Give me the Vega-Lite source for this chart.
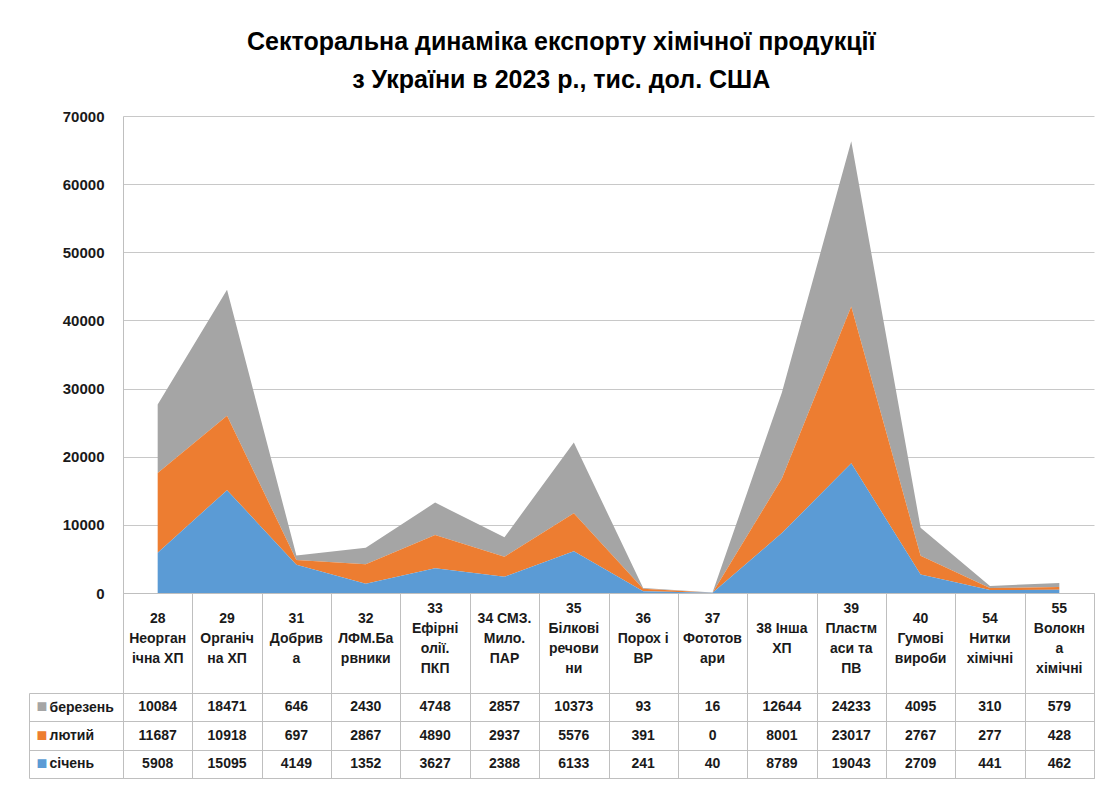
{
  "$schema": "https://vega.github.io/schema/vega-lite/v6.json",
  "background": "white",
  "padding": {"left": 28, "top": 30, "right": 5, "bottom": 5},
  "bounds": "flush",
  "title": {
    "text": ["Секторальна динаміка експорту хімічної продукції", "з України в 2023 р., тис. дол. США"],
    "font": "Liberation Sans",
    "fontSize": 25,
    "fontWeight": "bold",
    "color": "#000000",
    "lineHeight": 38,
    "anchor": "middle",
    "offset": 16
  },
  "datasets": {
    "cats": [
      {"cat": "28", "label": "28|Неорган|ічна ХП"},
      {"cat": "29", "label": "29|Органіч|на ХП"},
      {"cat": "31", "label": "31|Добрив|а"},
      {"cat": "32", "label": "32|ЛФМ.Ба|рвники"},
      {"cat": "33", "label": "33|Ефірні|олії.|ПКП"},
      {"cat": "34", "label": "34  СМЗ.|Мило.|ПАР"},
      {"cat": "35", "label": "35|Білкові|речови|ни"},
      {"cat": "36", "label": "36|Порох і|ВР"},
      {"cat": "37", "label": "37|Фототов|ари"},
      {"cat": "38", "label": "38  Інша|ХП"},
      {"cat": "39", "label": "39|Пластм|аси та|ПВ"},
      {"cat": "40", "label": "40|Гумові|вироби"},
      {"cat": "54", "label": "54|Нитки|хімічні"},
      {"cat": "55", "label": "55|Волокн|а|хімічні"}
    ],
    "values": [
      {"cat": "28", "month": "березень", "value": 10084},
      {"cat": "29", "month": "березень", "value": 18471},
      {"cat": "31", "month": "березень", "value": 646},
      {"cat": "32", "month": "березень", "value": 2430},
      {"cat": "33", "month": "березень", "value": 4748},
      {"cat": "34", "month": "березень", "value": 2857},
      {"cat": "35", "month": "березень", "value": 10373},
      {"cat": "36", "month": "березень", "value": 93},
      {"cat": "37", "month": "березень", "value": 16},
      {"cat": "38", "month": "березень", "value": 12644},
      {"cat": "39", "month": "березень", "value": 24233},
      {"cat": "40", "month": "березень", "value": 4095},
      {"cat": "54", "month": "березень", "value": 310},
      {"cat": "55", "month": "березень", "value": 579},
      {"cat": "28", "month": "лютий", "value": 11687},
      {"cat": "29", "month": "лютий", "value": 10918},
      {"cat": "31", "month": "лютий", "value": 697},
      {"cat": "32", "month": "лютий", "value": 2867},
      {"cat": "33", "month": "лютий", "value": 4890},
      {"cat": "34", "month": "лютий", "value": 2937},
      {"cat": "35", "month": "лютий", "value": 5576},
      {"cat": "36", "month": "лютий", "value": 391},
      {"cat": "37", "month": "лютий", "value": 0},
      {"cat": "38", "month": "лютий", "value": 8001},
      {"cat": "39", "month": "лютий", "value": 23017},
      {"cat": "40", "month": "лютий", "value": 2767},
      {"cat": "54", "month": "лютий", "value": 277},
      {"cat": "55", "month": "лютий", "value": 428},
      {"cat": "28", "month": "січень", "value": 5908},
      {"cat": "29", "month": "січень", "value": 15095},
      {"cat": "31", "month": "січень", "value": 4149},
      {"cat": "32", "month": "січень", "value": 1352},
      {"cat": "33", "month": "січень", "value": 3627},
      {"cat": "34", "month": "січень", "value": 2388},
      {"cat": "35", "month": "січень", "value": 6133},
      {"cat": "36", "month": "січень", "value": 241},
      {"cat": "37", "month": "січень", "value": 40},
      {"cat": "38", "month": "січень", "value": 8789},
      {"cat": "39", "month": "січень", "value": 19043},
      {"cat": "40", "month": "січень", "value": 2709},
      {"cat": "54", "month": "січень", "value": 441},
      {"cat": "55", "month": "січень", "value": 462}
    ]
  },
  "spacing": 0,
  "vconcat": [
    {
      "width": 971,
      "height": 477,
      "data": {"name": "values"},
      "mark": {"type": "area", "line": false, "opacity": 1},
      "encoding": {
        "x": {
          "field": "cat",
          "type": "ordinal",
          "scale": {"type": "point", "padding": 0.5, "domain": ["28","29","31","32","33","34","35","36","37","38","39","40","54","55"]},
          "axis": null
        },
        "y": {
          "field": "value",
          "type": "quantitative",
          "stack": "zero",
          "scale": {"domain": [0, 70000], "nice": false},
          "axis": {
            "title": null,
            "values": [0, 10000, 20000, 30000, 40000, 50000, 60000, 70000],
            "format": "d",
            "labelFontSize": 15,
            "labelFontWeight": "bold",
            "labelColor": "#1a1a1a",
            "labelPadding": 19,
            "labelFlush": false,
            "ticks": false,
            "domain": true,
            "domainColor": "#BFBFBF",
            "grid": true,
            "gridColor": "#C8C8C8"
          }
        },
        "color": {
          "field": "month",
          "type": "nominal",
          "sort": ["січень", "лютий", "березень"],
          "scale": {"domain": ["січень", "лютий", "березень"], "range": ["#5B9BD5", "#ED7D31", "#A5A5A5"]},
          "legend": null
        }
      }
    },
    {
      "width": 971,
      "height": 100,
      "data": {"name": "cats"},
      "view": {"stroke": "#BFBFBF"},
      "mark": {
        "type": "text",
        "lineBreak": "|",
        "fontSize": 14,
        "fontWeight": "bold",
        "lineHeight": 20,
        "baseline": "middle",
        "align": "center",
        "color": "#1a1a1a",
        "dy": {"expr": "-4 - (length(split(datum.label, '|')) - 1) * 10"}
      },
      "encoding": {
        "x": {
          "field": "cat",
          "type": "ordinal",
          "scale": {"type": "band", "padding": 0, "domain": ["28","29","31","32","33","34","35","36","37","38","39","40","54","55"]},
          "axis": {"title": null, "labels": false, "ticks": false, "domain": false, "grid": true, "tickBand": "extent", "gridColor": "#BFBFBF", "orient": "bottom"}
        },
        "text": {"field": "label", "type": "nominal"}
      }
    },
    {
      "width": 971,
      "height": 85,
      "data": {"name": "values"},
      "view": {"stroke": "#BFBFBF"},
      "layer": [
        {
          "mark": {"type": "text", "fontSize": 14, "fontWeight": "bold", "baseline": "middle", "align": "center", "color": "#1a1a1a"},
          "encoding": {
            "x": {
              "field": "cat",
              "type": "ordinal",
              "scale": {"type": "band", "padding": 0, "domain": ["28","29","31","32","33","34","35","36","37","38","39","40","54","55"]},
              "axis": {"title": null, "labels": false, "ticks": false, "domain": false, "grid": true, "tickBand": "extent", "gridColor": "#BFBFBF", "orient": "bottom"}
            },
            "y": {
              "field": "month",
              "type": "nominal",
              "scale": {"type": "band", "padding": 0, "domain": ["березень", "лютий", "січень"]},
              "axis": {
                "title": null,
                "orient": "left",
                "tickBand": "extent",
                "ticks": true,
                "tickSize": 94,
                "tickColor": "#BFBFBF",
                "grid": true,
                "gridColor": "#BFBFBF",
                "domain": false,
                "labelAlign": "left",
                "labelBaseline": "middle",
                "labelPadding": -20,
                "labelFontSize": 14,
                "labelFontWeight": "bold",
                "labelColor": "#1a1a1a"
              }
            },
            "text": {"field": "value", "type": "quantitative", "format": "d"}
          }
        },
        {
          "mark": {"type": "text", "text": ""},
          "encoding": {
            "y": {
              "field": "month",
              "type": "nominal",
              "scale": {"type": "band", "padding": 0, "domain": ["березень", "лютий", "січень"]},
              "axis": {
                "title": null,
                "orient": "left",
                "offset": 94,
                "ticks": false,
                "tickSize": 0,
                "grid": false,
                "domain": true,
                "domainColor": "#BFBFBF",
                "labelExpr": "'■'",
                "labelAlign": "left",
                "labelBaseline": "middle",
                "labelPadding": -7,
                "labelFontSize": 18,
                "labelColor": {
                  "condition": [
                    {"test": "datum.value === 'березень'", "value": "#A5A5A5"},
                    {"test": "datum.value === 'лютий'", "value": "#ED7D31"}
                  ],
                  "value": "#5B9BD5"
                }
              }
            }
          }
        }
      ],
      "resolve": {"scale": {"y": "independent"}}
    }
  ],
  "resolve": {"scale": {"x": "independent", "y": "independent"}},
  "config": {
    "font": "Liberation Sans",
    "view": {"stroke": null}
  }
}
